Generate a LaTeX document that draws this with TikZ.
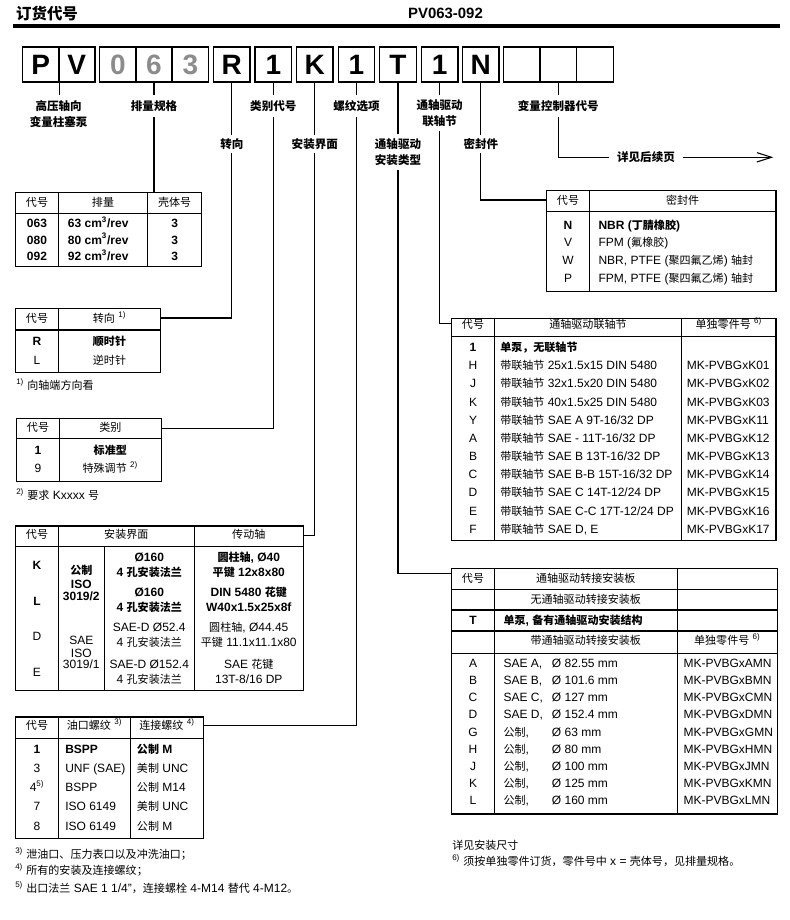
\documentclass[tikz,border=0pt]{standalone}
\usepackage{fontspec}
\setmainfont{Liberation Sans}
\newfontfamily\cjk{Noto Sans CJK SC}[Scale=0.92]
\usetikzlibrary{arrows.meta}
\definecolor{codegray}{gray}{0.55}
\XeTeXinterchartokenstate=1
\newXeTeXintercharclass\cjkclass
\makeatletter
\count@=0 \loop\ifnum\count@<"3000 \XeTeXcharclass\count@=0 \advance\count@ 1 \repeat
\count@="3000 \loop\ifnum\count@<"3040 \XeTeXcharclass\count@=\cjkclass \advance\count@ 1 \repeat
\count@="4E00 \loop\ifnum\count@<"A000 \XeTeXcharclass\count@=\cjkclass \advance\count@ 1 \repeat
\count@="FF00 \loop\ifnum\count@<"FFF0 \XeTeXcharclass\count@=\cjkclass \advance\count@ 1 \repeat
\makeatother
\XeTeXinterchartoks 0 \cjkclass = {\begingroup\cjk}
\XeTeXinterchartoks 4095 \cjkclass = {\begingroup\cjk}
\XeTeXinterchartoks \cjkclass 0 = {\endgroup}
\XeTeXinterchartoks \cjkclass 4095 = {\endgroup}
\newcounter{nn}
\newcommand\nd[3][]{\stepcounter{nn}\node[tx,#1] (n\arabic{nn}) at (#2) {#3};}
\tikzset{
  cell/.style={draw, line width=0.9pt, minimum width=27.4pt, minimum height=26.25pt, inner sep=0pt, font=\fontsize{21}{21}\selectfont\bfseries},
  lab/.style={inner sep=0pt, align=center, font=\fontsize{9.4}{12}\selectfont\bfseries},
  conn/.style={line width=0.8pt},
  tbl/.style={line width=0.95pt},
  tx/.style={inner sep=0pt, text height=6.7pt, text depth=1.9pt, font=\fontsize{9}{11}\selectfont},
  txl/.style={anchor=west},
  tb/.style={font=\fontsize{9}{11}\selectfont\bfseries},
}
\begin{document}
\begin{tikzpicture}[x=0.75pt,y=-0.75pt]
\useasboundingbox (0,0) rectangle (789,920);
% header
\node[inner sep=0pt, font=\fontsize{12.6}{13}\selectfont\bfseries] (title) at (47,14) {订货代号};
\node[inner sep=0pt, font=\fontsize{11.2}{12}\selectfont\bfseries] (model) at (445.5,13) {PV063-092};
\draw[line width=3pt] (13,26) -- (780,26);
% code cells
\node[cell] (cP) at (40.7,64.5) {P};
\node[cell] (cV) at (76.7,64.5) {V};
\node[cell, text=codegray] (c0) at (117.8,64.5) {0};
\node[cell, text=codegray] (c6) at (154.0,64.5) {6};
\node[cell, text=codegray] (c3) at (190.3,64.5) {3};
\node[cell] (cR) at (231.8,64.5) {R};
\node[cell] (c1a) at (273.3,64.5) {1};
\node[cell] (cK) at (314.8,64.5) {K};
\node[cell] (c1b) at (356.5,64.5) {1};
\node[cell] (cT) at (398.0,64.5) {T};
\node[cell] (c1c) at (439.7,64.5) {1};
\node[cell] (cN) at (480.8,64.5) {N};
\node[cell] (cB1) at (521.6,64.5) {};
\node[cell] (cB2) at (558.3,64.5) {};
\node[cell] (cB3) at (595.0,64.5) {};
% labels
\node[lab, minimum height=28.5pt] (lab1) at (58.7,114) {高压轴向\\变量柱塞泵};
\node[lab, minimum height=16.5pt] (lab2) at (154.0,106) {排量规格};
\node[lab, minimum height=13.5pt] (lab3) at (231.8,144) {转向};
\node[lab, minimum height=16.5pt] (lab4) at (273.3,106) {类别代号};
\node[lab, minimum height=13.5pt] (lab5) at (314.8,144) {安装界面};
\node[lab, minimum height=16.5pt] (lab6) at (356.5,106) {螺纹选项};
\node[lab, minimum height=26.25pt] (lab7) at (398.0,152) {通轴驱动\\安装类型};
\node[lab, minimum height=27pt] (lab8) at (439.7,113) {通轴驱动\\联轴节};
\node[lab, minimum height=13.5pt] (lab9) at (480.8,144) {密封件};
\node[lab, minimum height=16.5pt] (lab10) at (558.3,106) {变量控制器代号};
\node[lab, inner xsep=6pt] (more) at (646,157.3) {详见后续页};
% connection points
\coordinate (tA) at (154.0,192.7);
\coordinate (tB) at (160.7,318);
\coordinate (tC) at (161.3,428.3);
\coordinate (tD) at (303.3,535.3);
\coordinate (tE) at (203.3,725.3);
\coordinate (tF) at (546.7,200);
\coordinate (tG) at (451.7,323.3);
\coordinate (tH) at (451.7,573.3);
\coordinate (tArrow) at (773.3,157.3);
% connectors
\draw[conn] (cP.south east) -- (cP.south east |- lab1.north);
\draw[conn] (c6.south) -- (lab2.north) (lab2.south) -- (tA);
\draw[conn] (cR.south) -- (lab3.north) (lab3.south) |- (tB);
\draw[conn] (c1a.south) -- (lab4.north) (lab4.south) |- (tC);
\draw[conn] (cK.south) -- (lab5.north) (lab5.south) |- (tD);
\draw[conn] (c1b.south) -- (lab6.north) (lab6.south) |- (tE);
\draw[conn] (cT.south) -- (lab7.north) (lab7.south) |- (tH);
\draw[conn] (c1c.south) -- (lab8.north) (lab8.south) |- (tG);
\draw[conn] (cN.south) -- (lab9.north) (lab9.south) |- (tF);
\draw[conn] (cB2.south) -- (lab10.north) (lab10.south) |- (more.west);
\draw[conn, -{Straight Barb[length=11pt,width=7pt]}] (more.east) -- (tArrow);
% table A
\draw[tbl] (15.7,192.7) rectangle (201.7,266.3);
\draw[tbl] (58.3,192.7)--(58.3,266.3) (147.7,192.7)--(147.7,266.3) (15.7,213.3)--(201.7,213.3);
\nd{37,203.3}{代号} \nd{103,203.3}{排量} \nd{174.7,203.3}{壳体号}
\nd[tb]{37,224.4}{063} \nd[txl,tb]{67.7,224.4}{63 cm\textsuperscript{3}/rev} \nd[tb]{174.7,224.4}{3}
\nd[tb]{37,240.8}{080} \nd[txl,tb]{67.7,240.8}{80 cm\textsuperscript{3}/rev} \nd[tb]{174.7,240.8}{3}
\nd[tb]{37,257.2}{092} \nd[txl,tb]{67.7,257.2}{92 cm\textsuperscript{3}/rev} \nd[tb]{174.7,257.2}{3}
% table B
\draw[tbl] (15.7,308.3) rectangle (160.7,372.3);
\draw[tbl] (58.3,308.3)--(58.3,372.3) (15.7,330)--(160.7,330);
\nd{37,319.3}{代号} \nd{109.5,319.3}{转向 \textsuperscript{1)}}
\nd[tb]{37,342.3}{R} \nd[tb]{109.5,342.3}{顺时针}
\nd{37,361}{L} \nd{109.5,361}{逆时针}
\nd[txl]{16,386.7}{\textsuperscript{1)} 向轴端方向看}
% table C
\draw[tbl] (16.7,418.3) rectangle (161.3,481.7);
\draw[tbl] (59.3,418.3)--(59.3,481.7) (16.7,438.3)--(161.3,438.3);
\nd{38,428.3}{代号} \nd{110.3,428.3}{类别}
\nd[tb]{38,451.7}{1} \nd[tb]{110.3,451.7}{标准型}
\nd{38,469.3}{9} \nd{110.3,469.3}{特殊调节 \textsuperscript{2)}}
\nd[txl]{16,496}{\textsuperscript{2)} 要求 Kxxxx 号}
% table D
\draw[tbl] (15.7,526) rectangle (303.3,690.3);
\draw[tbl] (58.3,526)--(58.3,690.3) (194.3,526)--(194.3,690.3) (104.3,546.7)--(104.3,690.3) (15.7,546.7)--(303.3,546.7);
\nd{37,535}{代号} \nd{126.3,535}{安装界面} \nd{248.8,535}{传动轴}
\nd[tb]{37,566.7}{K} \nd[tb]{37,602.3}{L} \nd{37,637.7}{D} \nd{37,673.3}{E}
\nd[tb]{81.3,571.7}{公制} \nd[tb]{81.3,585}{ISO} \nd[tb]{81.3,597.3}{3019/2}
\nd{81.3,641.7}{SAE} \nd{81.3,654}{ISO} \nd{81.3,665.7}{3019/1}
\nd[tb]{149.3,558.3}{Ø160} \nd[tb]{149.3,573.3}{4 孔安装法兰}
\nd[tb]{149.3,593.3}{Ø160} \nd[tb]{149.3,608.3}{4 孔安装法兰}
\nd{149.3,628.3}{SAE-D Ø52.4} \nd{149.3,643.3}{4 孔安装法兰}
\nd{149.3,665}{SAE-D Ø152.4} \nd{149.3,680}{4 孔安装法兰}
\nd[tb]{248.8,558.3}{圆柱轴, Ø40} \nd[tb]{248.8,573.3}{平键 12x8x80}
\nd[tb]{248.8,593.3}{DIN 5480 花键} \nd[tb]{248.8,608.3}{W40x1.5x25x8f}
\nd{248.8,628.3}{圆柱轴, Ø44.45} \nd{248.8,643.3}{平键 11.1x11.1x80}
\nd{248.8,665}{SAE 花键} \nd{248.8,680}{13T-8/16 DP}
% table E
\draw[tbl] (15.7,717) rectangle (203.3,838.3);
\draw[tbl] (58.3,717)--(58.3,838.3) (130.7,717)--(130.7,838.3) (15.7,738.3)--(203.3,738.3);
\nd{37,726.7}{代号} \nd{94.5,726.7}{油口螺纹 \textsuperscript{3)}} \nd{167,726.7}{连接螺纹 \textsuperscript{4)}}
\nd[tb]{37,750}{1} \nd[txl,tb]{65,750}{BSPP} \nd[txl,tb]{136.7,750}{公制 M}
\nd{37,769.2}{3} \nd[txl]{65,769.2}{UNF (SAE)} \nd[txl]{136.7,769.2}{美制 UNC}
\nd{37,788.4}{4\textsuperscript{5)}} \nd[txl]{65,788.4}{BSPP} \nd[txl]{136.7,788.4}{公制 M14}
\nd{37,807.6}{7} \nd[txl]{65,807.6}{ISO 6149} \nd[txl]{136.7,807.6}{美制 UNC}
\nd{37,826.8}{8} \nd[txl]{65,826.8}{ISO 6149} \nd[txl]{136.7,826.8}{公制 M}
\nd[txl]{15,855}{\textsuperscript{3)} 泄油口、压力表口以及冲洗油口；}
\nd[txl]{15,871.5}{\textsuperscript{4)} 所有的安装及连接螺纹；}
\nd[txl]{15,889.3}{\textsuperscript{5)} 出口法兰 SAE 1 1/4"，连接螺栓 4-M14 替代 4-M12。}
% table F (seal)
\draw[tbl] (546.7,190.7) rectangle (776,291.7);
\draw[tbl] (589.3,190.7)--(589.3,291.7) (546.7,211.7)--(776,211.7);
\nd{568,201.7}{代号} \nd{682.7,201.7}{密封件}
\nd[tb]{568,226.7}{N} \nd[txl,tb]{598.3,226.7}{NBR (丁腈橡胶)}
\nd{568,243.5}{V} \nd[txl]{598.3,243.5}{FPM (氟橡胶)}
\nd{568,261}{W} \nd[txl]{598.3,261}{NBR, PTFE (聚四氟乙烯) 轴封}
\nd{568,279}{P} \nd[txl]{598.3,279}{FPM, PTFE (聚四氟乙烯) 轴封}
% table G (coupling)
\draw[tbl] (451.7,318.3) rectangle (776,540.7);
\draw[tbl] (494.3,318.3)--(494.3,540.7) (681.7,318.3)--(681.7,540.7) (451.7,336.7)--(776,336.7);
\nd{473,325.7}{代号} \nd{588,325.7}{通轴驱动联轴节} \nd{728.8,325.7}{单独零件号 \textsuperscript{6)}}
\nd[tb]{473,348.3}{1} \nd[txl,tb]{500,348.3}{单泵，无联轴节}
\nd{473,366.5}{H} \nd[txl]{500,366.5}{带联轴节 25x1.5x15 DIN 5480} \nd[txl]{686.7,366.5}{MK-PVBGxK01}
\nd{473,384.6}{J} \nd[txl]{500,384.6}{带联轴节 32x1.5x20 DIN 5480} \nd[txl]{686.7,384.6}{MK-PVBGxK02}
\nd{473,402.8}{K} \nd[txl]{500,402.8}{带联轴节 40x1.5x25 DIN 5480} \nd[txl]{686.7,402.8}{MK-PVBGxK03}
\nd{473,421.0}{Y} \nd[txl]{500,421.0}{带联轴节 SAE A 9T-16/32 DP} \nd[txl]{686.7,421.0}{MK-PVBGxK11}
\nd{473,439.2}{A} \nd[txl]{500,439.2}{带联轴节 SAE - 11T-16/32 DP} \nd[txl]{686.7,439.2}{MK-PVBGxK12}
\nd{473,457.3}{B} \nd[txl]{500,457.3}{带联轴节 SAE B 13T-16/32 DP} \nd[txl]{686.7,457.3}{MK-PVBGxK13}
\nd{473,475.5}{C} \nd[txl]{500,475.5}{带联轴节 SAE B-B 15T-16/32 DP} \nd[txl]{686.7,475.5}{MK-PVBGxK14}
\nd{473,493.7}{D} \nd[txl]{500,493.7}{带联轴节 SAE C 14T-12/24 DP} \nd[txl]{686.7,493.7}{MK-PVBGxK15}
\nd{473,511.8}{E} \nd[txl]{500,511.8}{带联轴节 SAE C-C 17T-12/24 DP} \nd[txl]{686.7,511.8}{MK-PVBGxK16}
\nd{473,530.0}{F} \nd[txl]{500,530.0}{带联轴节 SAE D, E} \nd[txl]{686.7,530.0}{MK-PVBGxK17}
% table H (through-drive adapter)
\draw[tbl] (451.7,568.3) rectangle (777.3,814);
\draw[tbl] (494.3,568.3)--(494.3,814) (677.3,568.3)--(677.3,814);
\draw[tbl] (451.7,589.3)--(777.3,589.3) (451.7,610)--(777.3,610) (451.7,631)--(777.3,631) (451.7,653.3)--(777.3,653.3);
\nd{473,579}{代号} \nd{585.8,579}{通轴驱动转接安装板}
\nd{585.8,600}{无通轴驱动转接安装板}
\nd[tb]{473,621}{T} \nd[txl,tb]{503.3,621}{单泵, 备有通轴驱动安装结构}
\nd{585.8,641.7}{带通轴驱动转接安装板} \nd{727.3,641.7}{单独零件号 \textsuperscript{6)}}
\nd{473,664}{A} \nd[txl]{503.3,664}{SAE A,} \nd[txl]{551.7,664}{Ø 82.55 mm} \nd[txl]{683.3,664}{MK-PVBGxAMN}
\nd{473,681.2}{B} \nd[txl]{503.3,681.2}{SAE B,} \nd[txl]{551.7,681.2}{Ø 101.6 mm} \nd[txl]{683.3,681.2}{MK-PVBGxBMN}
\nd{473,698.4}{C} \nd[txl]{503.3,698.4}{SAE C,} \nd[txl]{551.7,698.4}{Ø 127 mm} \nd[txl]{683.3,698.4}{MK-PVBGxCMN}
\nd{473,715.6}{D} \nd[txl]{503.3,715.6}{SAE D,} \nd[txl]{551.7,715.6}{Ø 152.4 mm} \nd[txl]{683.3,715.6}{MK-PVBGxDMN}
\nd{473,732.8}{G} \nd[txl]{503.3,732.8}{公制,} \nd[txl]{551.7,732.8}{Ø 63 mm} \nd[txl]{683.3,732.8}{MK-PVBGxGMN}
\nd{473,750.0}{H} \nd[txl]{503.3,750.0}{公制,} \nd[txl]{551.7,750.0}{Ø 80 mm} \nd[txl]{683.3,750.0}{MK-PVBGxHMN}
\nd{473,767.2}{J} \nd[txl]{503.3,767.2}{公制,} \nd[txl]{551.7,767.2}{Ø 100 mm} \nd[txl]{683.3,767.2}{MK-PVBGxJMN}
\nd{473,784.4}{K} \nd[txl]{503.3,784.4}{公制,} \nd[txl]{551.7,784.4}{Ø 125 mm} \nd[txl]{683.3,784.4}{MK-PVBGxKMN}
\nd{473,801.6}{L} \nd[txl]{503.3,801.6}{公制,} \nd[txl]{551.7,801.6}{Ø 160 mm} \nd[txl]{683.3,801.6}{MK-PVBGxLMN}
\nd[txl]{452,846}{详见安装尺寸}
\nd[txl]{452,862.3}{\textsuperscript{6)} 须按单独零件订货，零件号中 x = 壳体号，见排量规格。}
\end{tikzpicture}
\end{document}
